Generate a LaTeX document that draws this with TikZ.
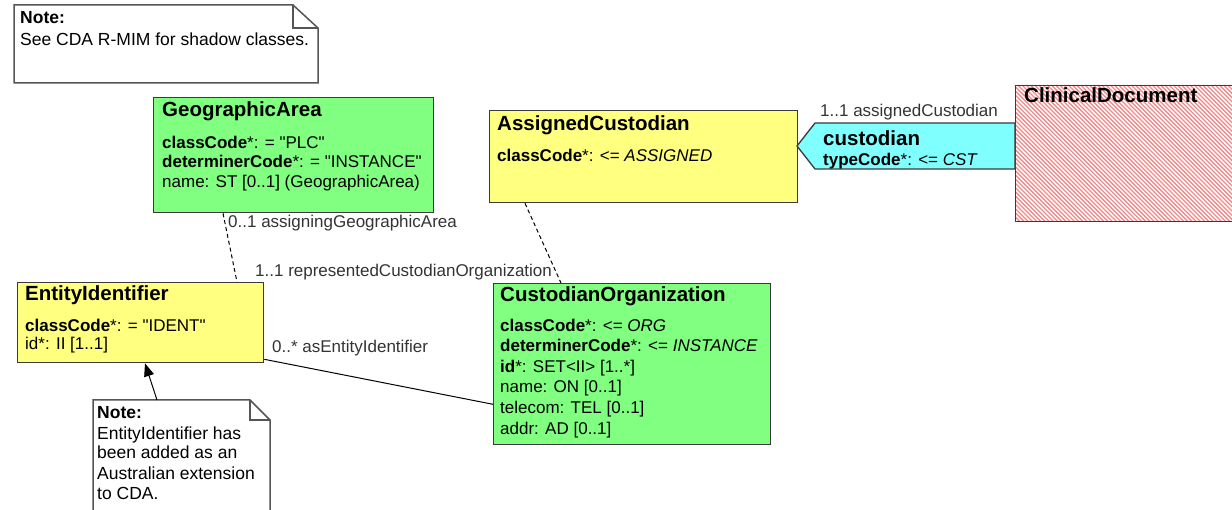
\documentclass[tikz,border=0pt]{standalone}
\usepackage{fontspec}
\setmainfont{Liberation Sans}
\usetikzlibrary{calc,arrows.meta}
\definecolor{cgreen}{HTML}{80FF80}
\definecolor{cyellow}{HTML}{FFFF80}
\definecolor{ccyan}{HTML}{80FFFF}
\definecolor{cborder}{HTML}{3A3A3A}
\definecolor{chatch}{HTML}{F48A8A}
\definecolor{cnote}{HTML}{555555}
\definecolor{clabel}{HTML}{333333}
\newcommand{\qq}[1]{\textquotedbl#1\textquotedbl}
\begin{document}
\begin{tikzpicture}[x=1pt,y=-1pt,
  cls/.style={draw=cborder, line width=1.3pt, anchor=north west, inner sep=0pt},
  ttl/.style={anchor=base west, inner sep=0pt, font=\fontsize{20.5}{24}\selectfont\bfseries},
  attr/.style={anchor=base west, inner sep=0pt, font=\fontsize{17}{19}\selectfont},
  lbl/.style={anchor=base west, inner sep=0pt, font=\fontsize{17}{19}\selectfont, text=clabel},
  notebox/.style={draw=cnote, line width=1.5pt, fill=white},
  notetxt/.style={anchor=base west, inner sep=0pt, font=\fontsize{17.5}{20}\selectfont},
  assoc/.style={draw=black, line width=1pt, dash pattern=on 4pt off 3pt},
  link/.style={draw=black, line width=1pt}]
\useasboundingbox (0,0) rectangle (1232,510);

% ---- Note 1
\draw[notebox] (14,5) -- (293,5) -- (318,28) -- (318,83) -- (14,83) -- cycle;
\draw[draw=cnote, line width=1.2pt] (293,5) -- (293,28) -- (318,28);
\node[notetxt] (n1a) at (20,24) {\textbf{Note:}};
\node[notetxt] (n1b) at (20,46) {See CDA R-MIM for shadow classes.};

% ---- GeographicArea
\node[cls, fill=cgreen, minimum width=280pt, minimum height=115pt] (geo) at (153,97) {};
\node[ttl] (geoT) at (162,117) {GeographicArea};
\node[attr] (geo1) at (162,149) {\textbf{classCode}*: = \qq{PLC}};
\node[attr] (geo2) at (162,168) {\textbf{determinerCode}*: = \qq{INSTANCE}};
\node[attr] (geo3) at (162,188) {name: ST [0..1] (GeographicArea)};

% ---- AssignedCustodian
\node[cls, fill=cyellow, minimum width=308pt, minimum height=92pt] (ac) at (489,110) {};
\node[ttl] (acT) at (497,131) {AssignedCustodian};
\node[attr] (ac1) at (497,162) {\textbf{classCode}*: <= \textit{ASSIGNED}};

% ---- ClinicalDocument (hatched)
\begin{scope}
  \clip (1015,85) rectangle (1240,221);
  \fill[white] (1015,85) rectangle (1240,221);
  \foreach \i in {0,...,90} {
    \draw[chatch, line width=1.3pt] ({1015-140+\i*4.2},85) -- ++(140,140);
  }
\end{scope}
\node[draw=cborder, line width=1.3pt, anchor=north west, inner sep=0pt,
      minimum width=225pt, minimum height=136pt] (cd) at (1015,85) {};
\node[ttl] (cdT) at (1024,103) {ClinicalDocument};

% ---- custodian participation
\draw[draw=cborder, line width=1.3pt, fill=ccyan]
  (797,146) -- (815,123) -- (1015,123) -- (1015,169) -- (815,169) -- cycle;
\node[ttl] (cuT) at (823,146) {custodian};
\node[attr] (cu1) at (823,166) {\textbf{typeCode}*: <= \textit{CST}};
\node[lbl] (cuL) at (820,117) {1..1 assignedCustodian};

% ---- EntityIdentifier
\node[cls, fill=cyellow, minimum width=246pt, minimum height=80pt] (ei) at (17,282) {};
\node[ttl] (eiT) at (25,301) {EntityIdentifier};
\node[attr] (ei1) at (25,332) {\textbf{classCode}*: = \qq{IDENT}};
\node[attr] (ei2) at (25,350) {id*: II [1..1]};

% ---- CustodianOrganization
\node[cls, fill=cgreen, minimum width=277pt, minimum height=161pt] (co) at (493,283) {};
\node[ttl] (coT) at (500,302) {CustodianOrganization};
\node[attr] (co1) at (500,332) {\textbf{classCode}*: <= \textit{ORG}};
\node[attr] (co2) at (500,352) {\textbf{determinerCode}*: <= \textit{INSTANCE}};
\node[attr] (co3) at (500,373) {\textbf{id}*: SET<II> [1..*]};
\node[attr] (co4) at (500,393) {name: ON [0..1]};
\node[attr] (co5) at (500,414) {telecom: TEL [0..1]};
\node[attr] (co6) at (500,435) {addr: AD [0..1]};

% ---- Note 2
\draw[notebox] (93,400) -- (250,400) -- (270,420) -- (270,520) -- (93,520) -- cycle;
\draw[draw=cnote, line width=1.2pt] (250,400) -- (250,420) -- (270,420);
\coordinate (n2top) at (157,400);
\node[notetxt] (n2a) at (97,419) {\textbf{Note:}};
\node[notetxt] (n2b) at (97,439) {EntityIdentifier has};
\node[notetxt] (n2c) at (97,459) {been added as an};
\node[notetxt] (n2d) at (97,479) {Australian extension};
\node[notetxt] (n2e) at (97,500) {to CDA.};

% ---- connectors
\draw[assoc] ($(geo.south west)+(70,0)$) -- ($(ei.north west)+(220,0)$);
\node[lbl] (gaL) at (228,228) {0..1 assigningGeographicArea};
\draw[assoc] ($(ac.south west)+(36,0)$) -- ($(co.north west)+(68,0)$);
\node[lbl] (rcL) at (255,277) {1..1 representedCustodianOrganization};
\draw[link] ($(ei.south east)+(0,-4)$) -- ($(co.south west)+(0,-41)$);
\node[lbl] (aeL) at (272,353) {0..* asEntityIdentifier};
\draw[link, -{Triangle[length=13pt,width=10pt]}] (n2top) -- ($(ei.south west)+(128,0)$);
\end{tikzpicture}
\end{document}
